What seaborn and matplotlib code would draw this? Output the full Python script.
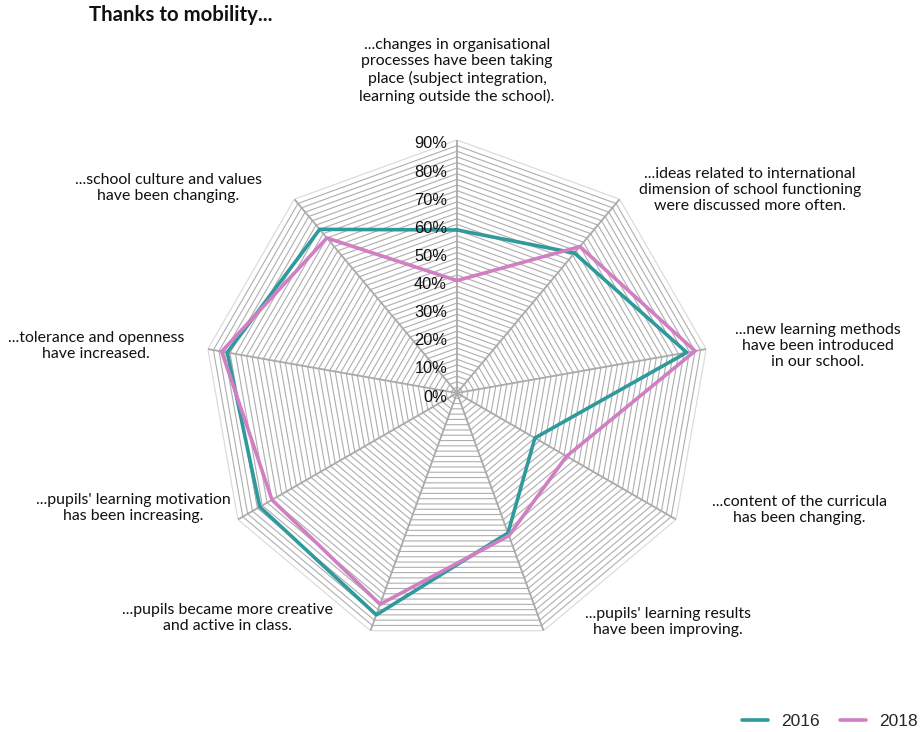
import numpy as np
import pandas as pd
import matplotlib
matplotlib.use("Agg")
import matplotlib.pyplot as plt
from matplotlib.lines import Line2D
import seaborn as sns

# Survey statements (radar axes, clockwise from the top)
categories = [
    "...changes in organisational\nprocesses have been taking\nplace (subject integration,\nlearning outside the school).",
    "...ideas related to international\ndimension of school functioning\nwere discussed more often.",
    "...new learning methods\nhave been introduced\nin our school.",
    "...content of the curricula\nhas been changing.",
    "...pupils' learning results\nhave been improving.",
    "...pupils became more creative\nand active in class.",
    "...pupils' learning motivation\nhas been increasing.",
    "...tolerance and openness\nhave increased.",
    "...school culture and values\nhave been changing.",
]
values_2016 = [58, 65, 83, 32, 53, 84, 81, 83, 76]
values_2018 = [40, 68, 86, 45, 54, 80, 76, 85, 72]
years = ["2016", "2018"]
tick_values = [0, 10, 20, 30, 40, 50, 60, 70, 80, 90]
tick_labels = [f"{v}%" for v in tick_values]

colors = {"2016": "#2f9a9c", "2018": "#d17fc2"}

sns.set_theme(style="white")
plt.rcParams["font.family"] = ["Lato", "DejaVu Sans"]

W, H = 921, 732
fig = plt.figure(figsize=(W / 100, H / 100), dpi=100)

# polar axes placed by its centre and radius in pixels
cx, cy, rad = 457, 393, 253
ax = fig.add_axes([(cx - rad) / W, (H - cy - rad) / H, 2 * rad / W, 2 * rad / H],
                  projection="polar")
ax.set_theta_zero_location("N")
ax.set_theta_direction(-1)
ax.set_ylim(0, 90)
ax.grid(False)
ax.spines["polar"].set_visible(False)
ax.set_xticks([])
ax.set_yticks([])
ax.patch.set_alpha(0)

n = len(categories)
angles = np.linspace(0, 2 * np.pi, n, endpoint=False)
closed = np.append(angles, angles[0] + 2 * np.pi)

# polygon web: a ring every 2 %, lighter outer edge
for r in range(2, 90, 2):
    ax.plot(closed, [r] * (n + 1), color="#aeaeae", lw=0.8, zorder=1)
ax.plot(closed, [90] * (n + 1), color="#dcdcdc", lw=0.9, zorder=1)
for a in angles:
    ax.plot([a, a], [0, 90], color="#aaaaaa", lw=1.3, zorder=2)

# series
rows = []
for year, vals in zip(years, [values_2016, values_2018]):
    vv = list(vals) + [vals[0]]
    for t, v in zip(closed, vv):
        rows.append({"theta": t, "value": v, "year": year})
df = pd.DataFrame(rows)
sns.lineplot(data=df, x="theta", y="value", hue="year", palette=colors,
             sort=False, estimator=None, lw=2.6, ax=ax, legend=False, zorder=3)
ax.set_xlabel("")
ax.set_ylabel("")

# radial tick labels along the top spoke
for v, lab in zip(tick_values, tick_labels):
    ax.annotate(lab, xy=(0, v), xytext=(-10, -4), textcoords="offset pixels",
                ha="right", va="center", fontsize=11.8,
                family=["Liberation Sans", "DejaVu Sans"], color="#111111", zorder=4)

# category labels (pixel centres)
label_pos = [(457, 71), (750, 190), (818, 346), (799, 510), (668, 622),
             (227, 618), (133, 508), (96, 346), (168, 188)]
for text, (px, py) in zip(categories, label_pos):
    fig.text(px / W, 1 - py / H, text, ha="center", va="center",
             fontsize=11.4, linespacing=1.22, color="#111111")

fig.text(89 / W, 1 - 15 / H, "Thanks to mobility...", ha="left", va="center",
         fontsize=14.7, fontweight="bold", color="#111111")

handles = [Line2D([], [], color=colors[y], lw=2.6) for y in years]
fig.legend(handles, years, loc="center right", bbox_to_anchor=(921 / W, 1 - 721 / H),
           ncol=2, frameon=False, handlelength=1.5, handletextpad=0.75,
           columnspacing=1.15, borderaxespad=0, borderpad=0.2,
           prop={"family": ["Liberation Sans", "DejaVu Sans"], "size": 12.5})

fig.savefig("out.png", dpi=100)
